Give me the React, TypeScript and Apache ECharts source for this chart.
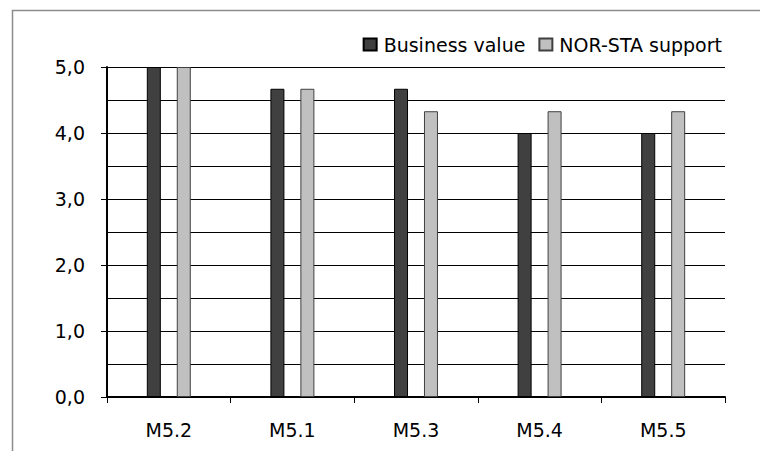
import React, { useEffect, useRef } from "react";
import * as echarts from "echarts";

const categories = ["M5.2", "M5.1", "M5.3", "M5.4", "M5.5"];
const businessValue = [5.0, 4.67, 4.67, 4.0, 4.0];
const norStaSupport = [5.0, 4.67, 4.33, 4.33, 4.33];
const seriesNames = ["Business value", "NOR-STA support"];

const FONT = "DejaVu Sans";
const FS = 19;

export default function App() {
  const ref = useRef<HTMLDivElement>(null);
  useEffect(() => {
    if (!ref.current) return;
    const chart = echarts.init(ref.current, null, { renderer: "svg" });
    chart.setOption({
      animation: false,
      backgroundColor: "#ffffff",
      textStyle: { fontFamily: FONT },
      graphic: [
        {
          type: "rect",
          shape: { x: 12.5, y: 10.5, width: 800, height: 500 },
          style: { fill: "none", stroke: "#8c8c8c", lineWidth: 1.5 },
          silent: true,
        },
      ],
      legend: {
        right: 33,
        top: 30,
        itemWidth: 13,
        itemHeight: 12,
        itemGap: 13,
        icon: "rect",
        textStyle: { fontFamily: FONT, fontSize: FS, color: "#000", padding: [0, 0, 0, 2] },
        data: seriesNames,
      },
      grid: { left: 107, right: 35, top: 67, bottom: 54, containLabel: false },
      xAxis: {
        type: "category",
        data: categories,
        axisLine: { lineStyle: { color: "#000", width: 2 } },
        axisTick: { show: true, length: 6, lineStyle: { color: "#000", width: 1 }, alignWithLabel: false },
        axisLabel: { fontFamily: FONT, fontSize: FS, color: "#000", margin: 23 },
      },
      yAxis: {
        type: "value",
        min: 0,
        max: 5,
        interval: 1,
        axisLine: { show: true, lineStyle: { color: "#000", width: 2 } },
        axisTick: { show: true, length: 6, lineStyle: { color: "#000", width: 1 } },
        minorTick: { show: false, splitNumber: 2 },
        splitLine: { show: true, lineStyle: { color: "#000", width: 1 } },
        minorSplitLine: { show: true, lineStyle: { color: "#000", width: 1 } },
        axisLabel: {
          fontFamily: FONT,
          fontSize: FS,
          color: "#000",
          margin: 22,
          formatter: (v: number) => v.toFixed(1).replace(".", ","),
        },
      },
      series: [
        {
          name: seriesNames[0],
          type: "bar",
          data: businessValue,
          barWidth: 14,
          barGap: "114%",
          itemStyle: { color: "#404040", borderColor: "#000", borderWidth: 1 },
        },
        {
          name: seriesNames[1],
          type: "bar",
          data: norStaSupport,
          barWidth: 14,
          itemStyle: { color: "#c0c0c0", borderColor: "#404040", borderWidth: 1 },
        },
      ],
    });
    return () => chart.dispose();
  }, []);
  return (
    <div
      ref={ref}
      style={{ position: "fixed", left: 0, top: 0, width: 760, height: 451 }}
    />
  );
}
